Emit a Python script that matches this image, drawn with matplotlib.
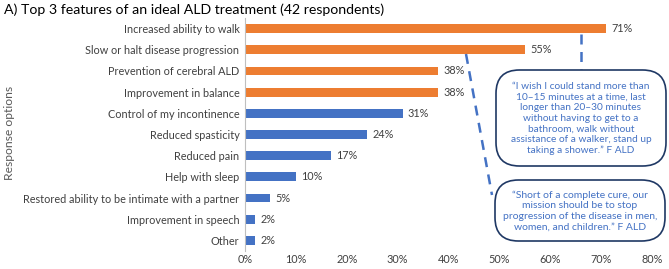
import matplotlib
matplotlib.use("Agg")
import matplotlib.pyplot as plt
from matplotlib.patches import FancyBboxPatch

plt.rcParams['font.family'] = ['Lato', 'DejaVu Sans']

categories = ["Increased ability to walk", "Slow or halt disease progression",
              "Prevention of cerebral ALD", "Improvement in balance",
              "Control of my incontinence", "Reduced spasticity", "Reduced pain",
              "Help with sleep", "Restored ability to be intimate with a partner",
              "Improvement in speech", "Other"]
values = [71, 55, 38, 38, 31, 24, 17, 10, 5, 2, 2]
highlight = [True, True, True, True, False, False, False, False, False, False, False]
xticks = [0, 10, 20, 30, 40, 50, 60, 70, 80]
quote1 = ("\u201cI wish I could stand more than\n10\u201315 minutes at a time, last\n"
          "longer than 20\u201330 minutes\nwithout having to get to a\n"
          "bathroom, walk without\nassistance of a walker, stand up\n"
          "taking a shower.\u201d F ALD")
quote2 = ("\u201cShort of a complete cure, our\nmission should be to stop\n"
          "progression of the disease in men,\nwomen, and children.\u201d F ALD")

orange = "#ED7D31"
blue = "#4472C4"
navy = "#1F3864"

fig = plt.figure(figsize=(6.69, 2.69), dpi=100)
ax = fig.add_axes([245 / 669, 18 / 269, (652 - 245) / 669, (251 - 18) / 269])

ypos = list(range(len(categories)))
colors = [orange if h else blue for h in highlight]
ax.barh(ypos, values, height=0.42, color=colors)
for y, v in zip(ypos, values):
    ax.text(v + 1.0, y, f"{v}%", va="center", ha="left", fontsize=7.8, color="#404040")

ax.set_ylim(len(categories) - 0.5, -0.5)
ax.set_xlim(0, 80)
ax.set_yticks(ypos)
ax.set_yticklabels(categories, fontsize=7.8, color="#404040")
ax.set_xticks(xticks)
ax.set_xticklabels([f"{t}%" for t in xticks], fontsize=7.8, color="#404040")
ax.tick_params(axis="both", length=0, pad=4)
ax.tick_params(axis="x", pad=2)
for s in ["top", "right", "bottom"]:
    ax.spines[s].set_visible(False)
ax.spines["left"].set_color("#BFBFBF")
ax.spines["left"].set_linewidth(0.8)

fig.text(10 / 669, 1 - 133 / 269, "Response options", rotation=90, fontsize=8.7,
         color="#595959", ha="center", va="center")
fig.text(4 / 669, 1 - 10 / 269, "A) Top 3 features of an ideal ALD treatment (42 respondents)",
         fontsize=10.2, color="#000000", ha="left", va="center")

def px(x, y):
    return (x / 669, 1 - y / 269)

def box(x0, y0, x1, y1, text, fs, ls):
    bx, by = px(x0, y1)
    w = (x1 - x0) / 669
    h = (y1 - y0) / 269
    p = FancyBboxPatch((bx, by), w, h, boxstyle="round,pad=0,rounding_size=0.035",
                       transform=fig.transFigure, facecolor="white", edgecolor=navy,
                       linewidth=1.2, zorder=5, mutation_aspect=669 / 269)
    fig.add_artist(p)
    cx, cy = px((x0 + x1) / 2, (y0 + y1) / 2 + 0.5)
    fig.text(cx, cy, text, ha="center", va="center", fontsize=fs, color=blue,
             linespacing=ls, zorder=6)

fig.add_artist(plt.Line2D([581 / 669, 581 / 669], [1 - 34 / 269, 1 - 72 / 269],
                          transform=fig.transFigure, color=blue, lw=1.8,
                          linestyle=(0, (4, 3)), zorder=4))
fig.add_artist(plt.Line2D([466 / 669, 492 / 669], [1 - 54 / 269, 1 - 195 / 269],
                          transform=fig.transFigure, color=blue, lw=1.8,
                          linestyle=(0, (4, 3)), zorder=4))

box(496, 70, 666, 166, quote1, 7.3, 1.24)
box(495, 180, 665, 241, quote2, 7.5, 1.25)

fig.savefig("out.png", dpi=100)
